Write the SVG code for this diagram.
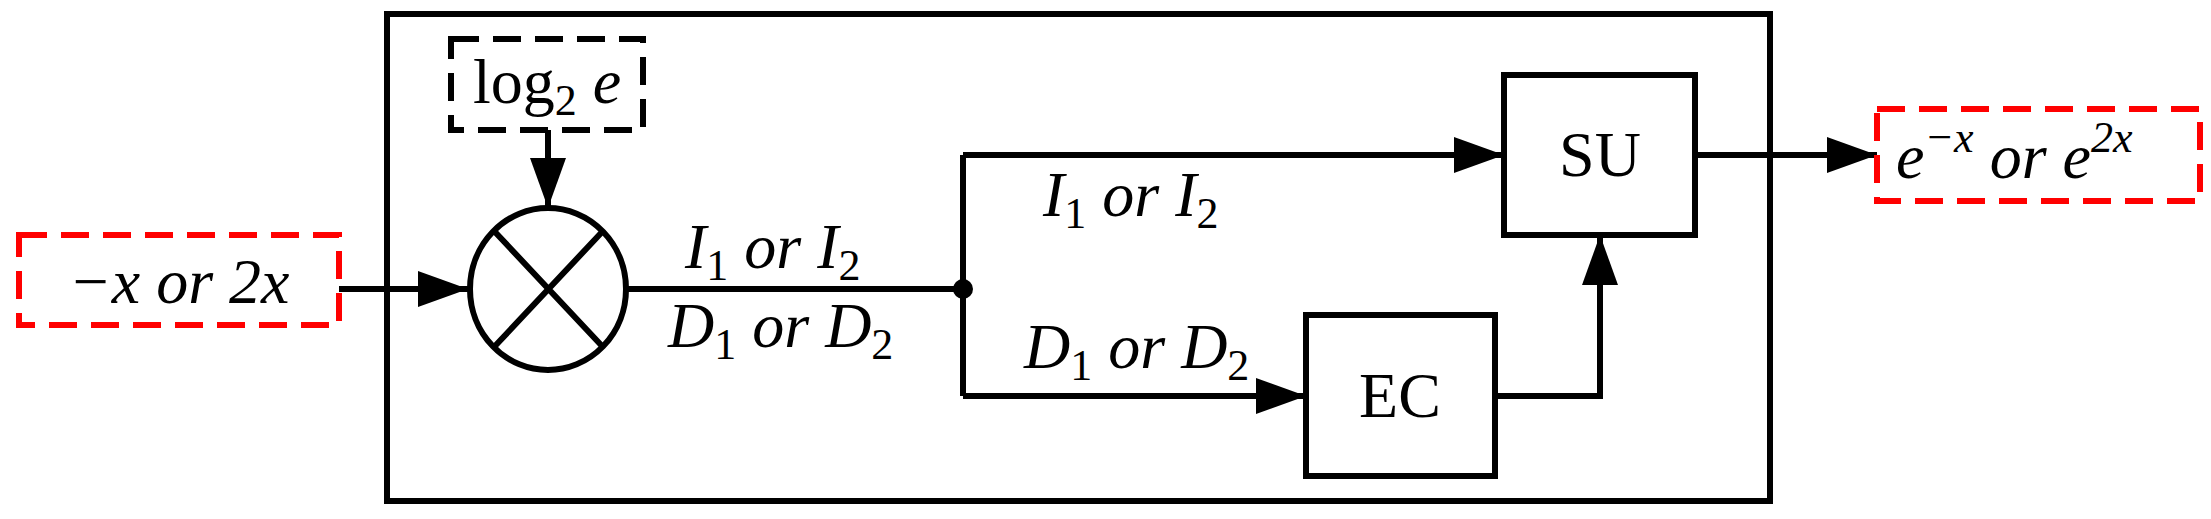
<svg xmlns="http://www.w3.org/2000/svg" width="2211" height="519" viewBox="0 0 2211 519">
<style>
.l{fill:none;stroke:#000;stroke-width:6}
.box{fill:#fff;stroke:#000;stroke-width:6}
.dk{fill:none;stroke:#000;stroke-width:6;stroke-dasharray:28,14}
.dr{fill:none;stroke:#f00;stroke-width:6;stroke-dasharray:28,14}
text{font-family:"Liberation Serif","Times New Roman",serif;font-size:64px;fill:#000}
.i{font-style:italic}
.s{font-size:44px;font-style:normal}
.si{font-size:44px}
</style>
<defs>
<marker id="a" markerUnits="userSpaceOnUse" markerWidth="52" markerHeight="36" refX="50" refY="18" orient="auto"><path d="M0,0 L50,18 L0,36 Z" fill="#000"/></marker>
</defs>
<rect x="387" y="14" width="1383" height="487" class="l"/>
<g id="connectors">
<path class="l" d="M339,289 H468" marker-end="url(#a)"/>
<path class="l" d="M548,130 V208" marker-end="url(#a)"/>
<path class="l" d="M628,289 H963"/>
<path class="l" d="M963,155 V396"/>
<path class="l" d="M963,155 H1504" marker-end="url(#a)"/>
<path class="l" d="M963,396 H1306" marker-end="url(#a)"/>
<path class="l" d="M1495,396 H1600 V235" marker-end="url(#a)"/>
<path class="l" d="M1695,155 H1877" marker-end="url(#a)"/>
<circle cx="963" cy="289" r="10" fill="#000"/>
<text class="i" x="685" y="268">I<tspan class="s" dy="12">1</tspan><tspan dy="-12"> or I</tspan><tspan class="s" dy="12">2</tspan></text>
<text class="i" x="668" y="347">D<tspan class="s" dy="12">1</tspan><tspan dy="-12"> or D</tspan><tspan class="s" dy="12">2</tspan></text>
<text class="i" x="1043" y="216">I<tspan class="s" dy="12">1</tspan><tspan dy="-12"> or I</tspan><tspan class="s" dy="12">2</tspan></text>
<text class="i" x="1024" y="368">D<tspan class="s" dy="12">1</tspan><tspan dy="-12"> or D</tspan><tspan class="s" dy="12">2</tspan></text>
</g>
<g id="input">
<rect x="19" y="235" width="320" height="90" class="dr"/>
<text class="i" x="179" y="303" text-anchor="middle">−x or 2x</text>
</g>
<g id="log2e">
<rect x="451" y="39" width="192" height="91" class="dk"/>
<text x="547" y="103" text-anchor="middle">log<tspan class="s" dy="12">2</tspan><tspan class="i" dy="-12"> e</tspan></text>
</g>
<g id="multiplier">
<ellipse cx="548" cy="289" rx="78" ry="81" class="box"/>
<path class="l" d="M495,232 L602,346 M602,232 L495,346"/>
</g>
<g id="SU">
<rect x="1504" y="75" width="191" height="160" class="box"/>
<text x="1600" y="176" text-anchor="middle">SU</text>
</g>
<g id="EC">
<rect x="1306" y="315" width="189" height="161" class="box"/>
<text x="1400" y="417" text-anchor="middle">EC</text>
</g>
<g id="output">
<rect x="1877" y="109" width="323" height="92" class="dr"/>
<text class="i" x="1896" y="178">e<tspan class="si" dy="-26">−x</tspan><tspan dy="26"> or e</tspan><tspan class="si" dy="-26">2x</tspan></text>
</g>
</svg>
